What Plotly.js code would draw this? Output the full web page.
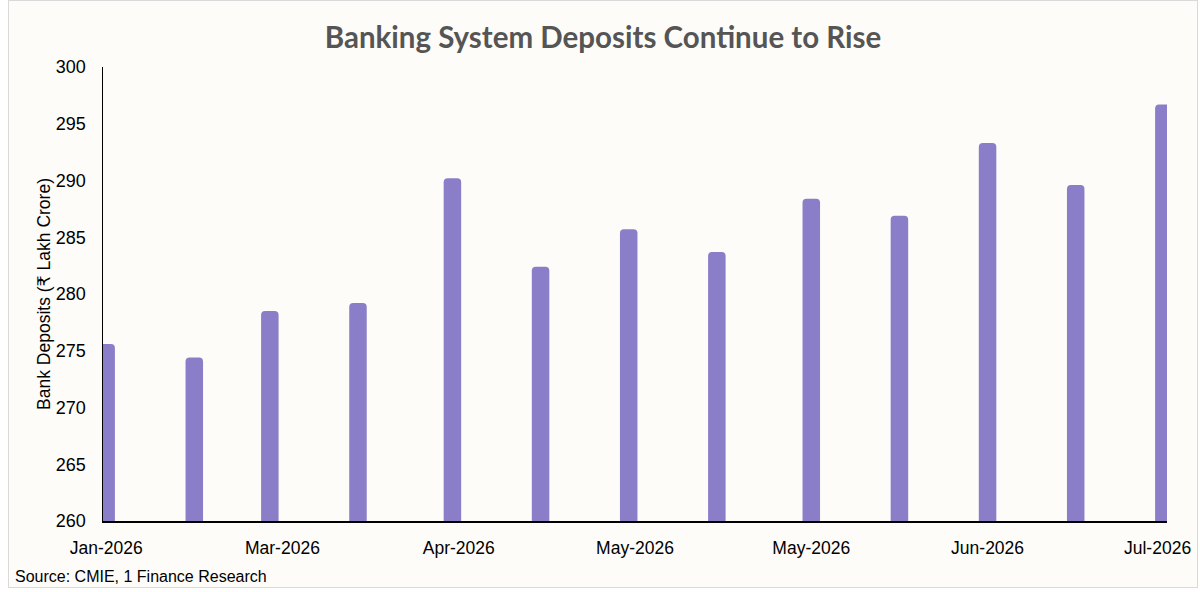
<!DOCTYPE html>
<html>
<head>
<meta charset="utf-8">
<script src="https://cdn.plot.ly/plotly-3.0.1.min.js"></script>
<style>
    body { margin: 0; background: #ffffff; }
    #frame {
        position: absolute; left: 8px; top: 0px;
        width: 1190px; height: 588px;
        box-sizing: border-box;
        border: 1px solid #d9d9d9;
        background: #fdfcf8;
    }
    #chart { width: 1188px; height: 586px; }
</style>
</head>
<body>
<div id="frame"><div id="chart"></div></div>
<script>
// fortnightly reporting dates and deposits (lakh crore)
var dates = ['2026-01-02', '2026-01-16', '2026-01-28', '2026-02-11', '2026-02-26',
             '2026-03-12', '2026-03-26', '2026-04-09', '2026-04-24', '2026-05-08',
             '2026-05-22', '2026-06-05', '2026-06-19'];
var deposits = [275.6, 274.4, 278.5, 279.2, 290.2, 282.4, 285.7, 283.7, 288.4, 286.9, 293.3, 289.6, 296.7];

// label positions (last one pulled in to fit, as in the original)
var tickDates = ['2026-01-02', '2026-01-30', '2026-02-27', '2026-03-27', '2026-04-24', '2026-05-22', '2026-06-18'];
var tickLabels = ['Jan-2026', 'Mar-2026', 'Apr-2026', 'May-2026', 'May-2026', 'Jun-2026', 'Jul-2026'];

var DAY = 86400000;
function toDateStr(ms) {
    return new Date(ms).toISOString().replace('T', ' ').replace('Z', '');
}
var xStart = toDateStr(Date.parse(dates[0]) - DAY / 2);
var xEnd = toDateStr(Date.parse(dates[dates.length - 1]) + DAY / 2);

var font = 'Liberation Sans, Arial, DejaVu Sans, sans-serif';

var trace = {
    x: dates,
    y: deposits,
    type: 'bar',
    width: 2.78 * DAY,
    marker: { color: '#8b7ec8', cornerradius: 4 },
    hoverinfo: 'x+y'
};

var layout = {
    width: 1188,
    height: 586,
    paper_bgcolor: '#fdfcf8',
    plot_bgcolor: '#fdfcf8',
    margin: { l: 94, r: 30, t: 66, b: 66 },
    showlegend: false,
    title: {
        text: '<b>Banking System Deposits Continue to Rise</b>',
        font: { family: 'Lato, Open Sans, sans-serif', size: 29.5, color: '#555555' },
        x: 0.5, xanchor: 'center',
        yref: 'container', y: 0.937, yanchor: 'middle'
    },
    xaxis: {
        type: 'date',
        range: [xStart, xEnd],
        tickmode: 'array',
        tickvals: tickDates,
        ticktext: tickLabels,
        showgrid: false,
        zeroline: false,
        showline: true,
        linecolor: '#000000',
        linewidth: 1.5,
        ticks: '',
        ticklabelstandoff: 10,
        tickfont: { family: font, size: 17.5, color: '#000000' }
    },
    yaxis: {
        range: [260, 300],
        dtick: 5,
        showgrid: false,
        zeroline: false,
        showline: true,
        linecolor: '#000000',
        linewidth: 1.5,
        ticks: '',
        ticklabelstandoff: 12,
        tickfont: { family: font, size: 18, color: '#000000' },
        title: {
            text: 'Bank Deposits (₹ Lakh Crore)',
            font: { family: font, size: 17.5, color: '#000000' },
            standoff: 0
        }
    },
    annotations: [{
        text: 'Source: CMIE, 1 Finance Research',
        xref: 'paper', yref: 'paper',
        x: -0.0846, y: -0.123,
        xanchor: 'left', yanchor: 'middle',
        showarrow: false,
        font: { family: font, size: 16, color: '#000000' }
    }]
};

Plotly.newPlot('chart', [trace], layout, { displayModeBar: false, staticPlot: true });
</script>
</body>
</html>
